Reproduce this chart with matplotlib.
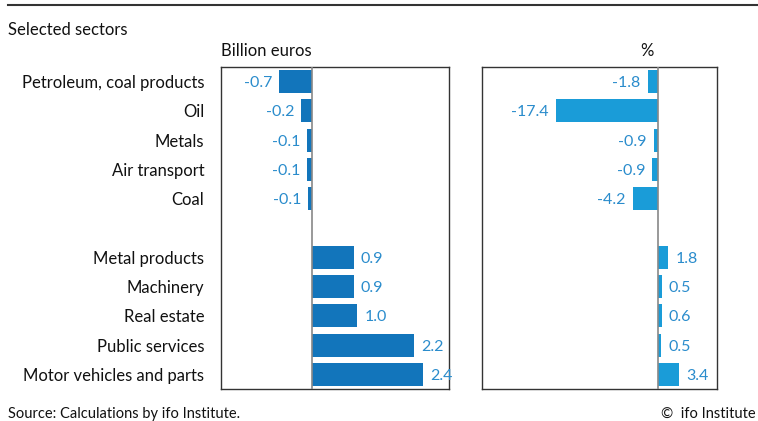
import matplotlib
matplotlib.use("Agg")
import matplotlib.pyplot as plt
from matplotlib.lines import Line2D

plt.rcParams['font.family'] = ['Lato', 'DejaVu Sans']

categories = ["Petroleum, coal products", "Oil", "Metals", "Air transport", "Coal",
              "", "Metal products", "Machinery", "Real estate", "Public services",
              "Motor vehicles and parts"]
billion_eur = [-0.7, -0.2, -0.1, -0.1, -0.1, None, 0.9, 0.9, 1.0, 2.2, 2.4]
billion_bar = [-0.7, -0.22, -0.1, -0.1, -0.08, None, 0.9, 0.9, 0.98, 2.2, 2.4]
percent = [-1.8, -17.4, -0.9, -0.9, -4.2, None, 1.8, 0.5, 0.6, 0.5, 3.4]
percent_bar = [-1.8, -17.4, -0.8, -1.0, -4.3, None, 1.7, 0.6, 0.6, 0.55, 3.5]

W, H = 758, 421
fig = plt.figure(figsize=(W / 100, H / 100), dpi=100)

dark = "#1275bb"
light = "#1a9cd8"
lbl = "#2a8ccc"
frame = "#333333"
zero_c = "#888888"

def ax_rect(x0, x1, y0, y1):
    return [x0 / W, 1 - y1 / H, (x1 - x0) / W, (y1 - y0) / H]

ax1 = fig.add_axes(ax_rect(221, 449, 67, 389))
ax2 = fig.add_axes(ax_rect(482, 717, 67, 389))

def draw(ax, vals, bars, color, xlim, pad, fmt, ylabels):
    ys = [i for i, v in enumerate(vals) if v is not None]
    ax.barh(ys, [bars[i] for i in ys], height=0.78, color=color, zorder=2)
    for i in ys:
        v = vals[i]
        b = bars[i]
        if v < 0:
            ax.text(b - pad, i + 0.05, fmt.format(v), ha='right', va='center', color=lbl, fontsize=11.5)
        else:
            ax.text(b + pad, i + 0.05, fmt.format(v), ha='left', va='center', color=lbl, fontsize=11.5)
    ax.set_xlim(*xlim)
    ax.set_ylim(10.5, -0.5)
    ax.axvline(0, color=zero_c, lw=1.2, zorder=3)
    ax.set_xticks([])
    if ylabels:
        ax.set_yticks(range(len(categories)))
        ax.set_yticklabels(categories, fontsize=12, color="#111111")
        ax.tick_params(axis='y', length=0, pad=12)
    else:
        ax.set_yticks([])
    for s in ax.spines.values():
        s.set_color(frame)
        s.set_linewidth(1.0)

draw(ax1, billion_eur, billion_bar, dark, (-1.95, 2.95), 0.15, "{:.1f}", True)
draw(ax2, percent, percent_bar, light, (-30, 10), 1.2, "{:.1f}", False)

fig.text(221 / W, 1 - 51 / H, "Billion euros", ha='left', va='center', fontsize=12, color="#111111")
fig.text(647 / W, 1 - 51 / H, "%", ha='center', va='center', fontsize=12, color="#111111")
fig.text(8 / W, 1 - 30 / H, "Selected sectors", ha='left', va='center', fontsize=12, color="#111111")
fig.text(8 / W, 1 - 414 / H, "Source: Calculations by ifo Institute.", ha='left', va='center', fontsize=10.5, color="#111111")
fig.text(756 / W, 1 - 414 / H, "©  ifo Institute", ha='right', va='center', fontsize=10.5, color="#111111")

fig.add_artist(Line2D([8 / W, 1.0], [1 - 5 / H, 1 - 5 / H], color="#333333", lw=1.5, transform=fig.transFigure))

fig.savefig("out.png", dpi=100)
